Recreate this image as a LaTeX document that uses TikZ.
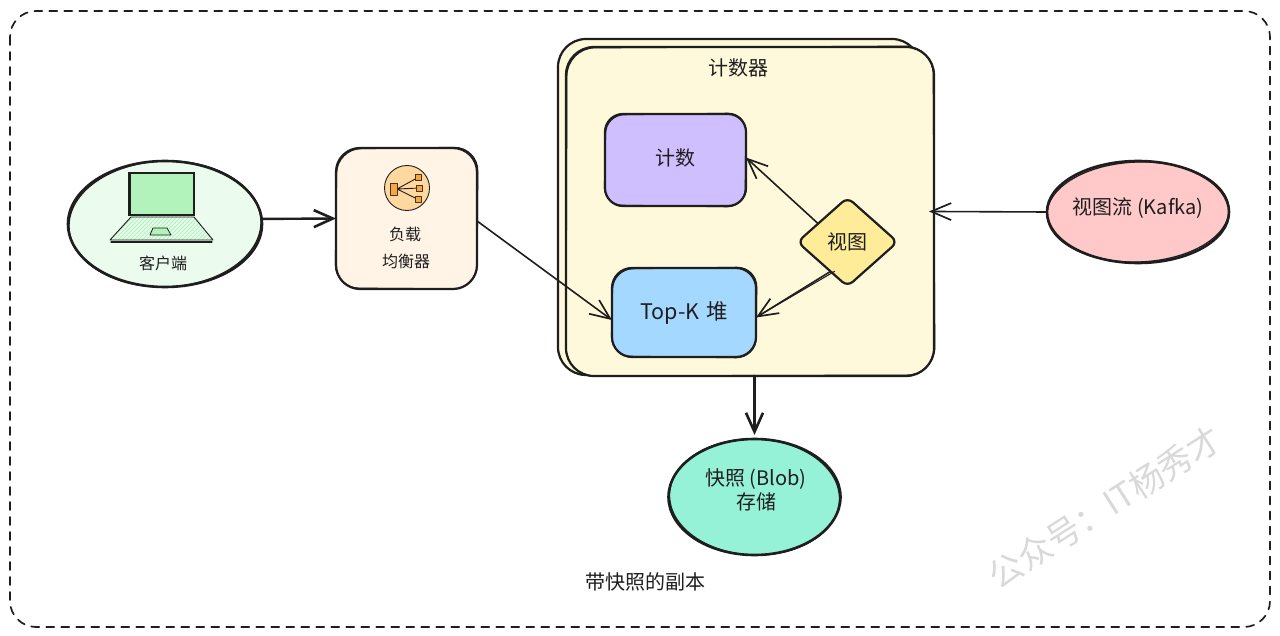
\documentclass[tikz,border=0pt]{standalone}
\usepackage{fontspec}
\setmainfont{Noto Sans CJK SC}
\usetikzlibrary{arrows.meta,shapes.geometric,calc}
\definecolor{ink}{HTML}{1E1E1E}
\definecolor{cgreen}{HTML}{EBFBEE}
\definecolor{lgreen}{HTML}{B2F2BB}
\definecolor{corange}{HTML}{FFF4E6}
\definecolor{cyellow}{HTML}{FFF9DB}
\definecolor{cpurple}{HTML}{D0BFFF}
\definecolor{cblue}{HTML}{A5D8FF}
\definecolor{cdiamond}{HTML}{FFEC99}
\definecolor{cpink}{HTML}{FFC9C9}
\definecolor{cteal}{HTML}{96F2D7}
\definecolor{iconbg}{HTML}{FFD8A0}
\definecolor{iconfg}{HTML}{F5A742}
\tikzset{
  every node/.style={text=ink,inner sep=0pt,outer sep=0pt},
  boxshape/.style={draw=ink,line width=2.2pt,rectangle},
  ovalshape/.style={draw=ink,line width=2.6pt,ellipse},
  arrowthin/.style={draw=ink,line width=1.6pt,-{Straight Barb[length=20pt,width=17pt,line width=1.7pt]}},
  arrowthick/.style={draw=ink,line width=2.8pt,-{Straight Barb[length=19pt,width=17pt,line width=2.6pt]}},
  labelsmall/.style={font=\fontsize{16}{18}\selectfont},
  labelbig/.style={font=\fontsize{20}{24}\selectfont},
  iconbox/.style={draw=ink!80!orange,line width=.6pt,fill=iconfg},
}
\begin{document}
\begin{tikzpicture}[x=1pt,y=-1pt,line join=round,line cap=round]
\useasboundingbox[fill=white] (0,0) rectangle (1280,636);
% outer frame
\draw[ink,line width=1.7pt,dash pattern=on 8pt off 7pt,rounded corners=26pt] (10,11) rectangle (1270,627);
% counter group
\draw[boxshape,fill=cyellow,rounded corners=28pt] (558,39) rectangle (920,375);
\node[boxshape,fill=cyellow,rounded corners=28pt,minimum width=368pt,minimum height=329pt] (counter) at (750,211.5) {};
\node[labelbig] (countertext) at (738,68) {计数器};
\draw[ink,line width=1.1pt,rounded corners=28pt] (567,48) -- (566,376) -- (935,375) -- (933,46) -- cycle;
% counter inner
\node[boxshape,fill=cpurple,rounded corners=18pt,minimum width=141pt,minimum height=92pt] (count) at (675.5,160) {};
\node[labelbig] (counttext) at (675.5,158) {计数};
\draw[ink,line width=1.1pt,rounded corners=18pt] (606,115) -- (604,205) -- (745,207) -- (746,113) -- cycle;
\node[boxshape,fill=cblue,rounded corners=20pt,minimum width=144pt,minimum height=89pt,font=\fontsize{21.5}{24}\selectfont] (topk) at (684,312.5) {Top-K\hspace{2pt} 堆};
\draw[ink,line width=1.1pt,rounded corners=20pt] (613,269) -- (611,356) -- (756,358) -- (757,267) -- cycle;
\node[draw=ink,line width=2.2pt,fill=cdiamond,diamond,rounded corners=7pt,minimum width=100pt,minimum height=89pt,labelbig] (view) at (847.5,242) {视图};
% client
\node[ovalshape,fill=cgreen,minimum width=194pt,minimum height=126pt] (client) at (165,224) {};
\draw[ink,line width=1.3pt,rotate around={2:(165,224)}] (165,224) ellipse [x radius=96pt,y radius=63pt];
% laptop
\fill[ink] (128,172) rectangle (195,216.5);
\fill[lgreen] (131,174.5) rectangle (193,214);
\fill[cgreen] (131,217) -- (194,217) -- (213,240) -- (110,240) -- cycle;
\begin{scope}
\clip (131,217) -- (194,217) -- (213,240) -- (110,240) -- cycle;
\foreach \k in {0,4,...,120} {\draw[lgreen,line width=.9pt] (100+\k,242) -- (126+\k,216);}
\end{scope}
\draw[ink,line width=.9pt] (131,217) -- (194,217) -- (213,240) -- (110,240) -- cycle;
\draw[ink,line width=1.2pt] (111,242) -- (212,242);
\draw[ink,line width=.8pt,fill=lgreen] (153,228) -- (167,228) -- (171,235) -- (150,235) -- cycle;
\node[labelsmall] (clienttext) at (163,263) {客户端};
% load balancer
\node[boxshape,fill=corange,rounded corners=24pt,minimum width=141pt,minimum height=141pt] (lb) at (406.5,218.5) {};
\draw[ink,line width=1.1pt,rounded corners=24pt] (337,149) -- (335,288) -- (477,289) -- (478,147) -- cycle;
\node[draw=ink,line width=.9pt,fill=iconbg,circle,minimum size=45pt] (lbicon) at (407,188) {};
\draw[ink,line width=.9pt] (397,189) -- (418,177.5) (397,189) -- (420,188) (397,189) -- (418,199.5);
\draw[iconbox] (390.5,183) rectangle (397.5,195);
\draw[iconbox] (415,174.5) rectangle (421,180.5);
\draw[iconbox] (416.5,185) rectangle (422,191);
\draw[iconbox] (415,196.5) rectangle (421,202.5);
\node[labelsmall] (lbtext1) at (405,234) {负载};
\node[labelsmall] (lbtext2) at (406,261) {均衡器};
% kafka
\node[ovalshape,fill=cpink,minimum width=182pt,minimum height=102pt] (kafka) at (1138,212) {};
\draw[ink,line width=1.3pt,rotate around={2:(1138,212)}] (1138,212) ellipse [x radius=91pt,y radius=50pt];
\node[labelbig] (kafkatext) at (1138,208) {视图流 (Kafka)};
% blob
\node[ovalshape,fill=cteal,minimum width=172pt,minimum height=116pt] (blob) at (754.5,497) {};
\draw[ink,line width=1.3pt,rotate around={-2:(754.5,497)}] (754.5,497) ellipse [x radius=85pt,y radius=58pt];
\node[labelbig,align=center] (blobtext) at (756,490) {快照 (Blob)\\存储};
% caption
\node[labelbig] (caption) at (645,582) {带快照的副本};
% watermark
\node[text=black!15,font=\fontsize{34}{40}\selectfont,rotate=32.5] (mark) at (1105,507) {公众号：IT杨秀才};
% connectors
\draw[arrowthick,line width=2.4pt] (client.3) -- (lb.west);
\draw[arrowthin] (lb.-2) -- (topk.186);
\draw[arrowthin] (view.148) -- (count.2);
\draw[arrowthin] (view.240) -- (topk.-4);
\draw[ink,line width=1.1pt] ([xshift=4pt]view.240) -- ([shift={(3pt,2pt)}]topk.-4);
\draw[arrowthin,shorten >=-5pt] (kafka.west) -- (counter.east);
\draw[arrowthick,shorten >=4pt] (blob.north |- counter.south) -- (blob.north);
\end{tikzpicture}
\end{document}
